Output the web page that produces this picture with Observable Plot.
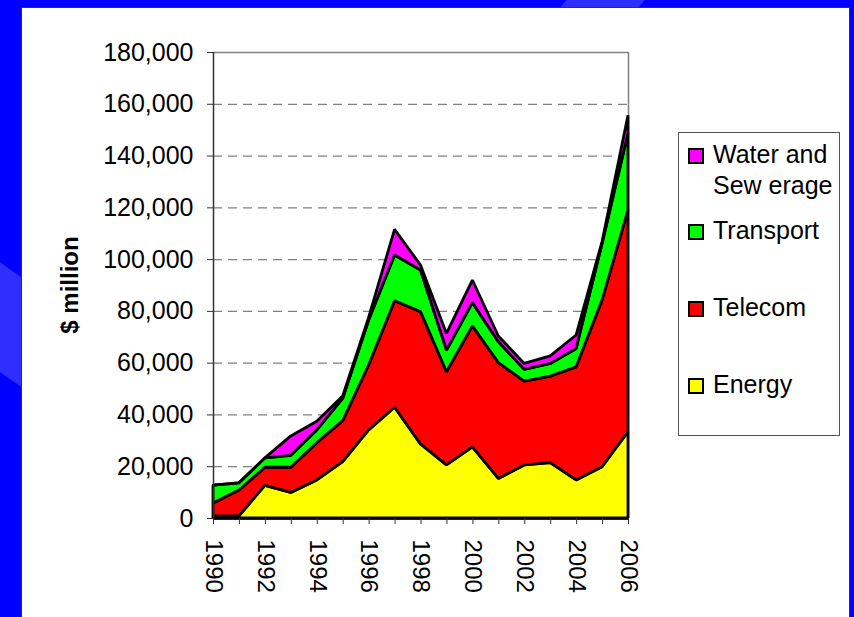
<!DOCTYPE html>
<html>
<head>
<meta charset="utf-8">
<script src="https://cdn.jsdelivr.net/npm/d3@7"></script>
<script src="https://cdn.jsdelivr.net/npm/@observablehq/plot@0.6"></script>
<style>
  html, body { margin: 0; padding: 0; }
  body { width: 854px; height: 617px; overflow: hidden; background: #0000ff; position: relative;
         font-family: "Liberation Sans", Arial, sans-serif; }
  .stripe { position: absolute; background: rgba(255,255,255,0.18); transform-origin: 0 0; }
  #panel { position: absolute; left: 21px; top: 7px; width: 827px; height: 620px; background: #fff;
           border: 1.5px solid #333; }
  #chart { position: absolute; left: 0; top: 0; }
  #ylabel { position: absolute; left: 70px; top: 285px; transform: translate(-50%, -50%) rotate(-90deg);
            font-weight: bold; font-size: 24px; white-space: nowrap; color: #000; }
  #legend { position: absolute; left: 678px; top: 132px; width: 162px; height: 304px; background: #fff;
            border: 1px solid #555; box-sizing: border-box; }
  .item { position: absolute; left: 9px; font-size: 25px; line-height: 31px; color: #000; }
  .sw { position: absolute; left: 0; width: 12px; height: 12px; border: 2px solid #000; }
  .lab { position: absolute; left: 25px; white-space: nowrap; }
</style>
</head>
<body>
<div class="stripe" style="left:600px; top:-40px; width:60px; height:120px; transform: rotate(40deg);"></div>
<div class="stripe" style="left:-60px; top:330px; width:90px; height:260px; transform: rotate(-55deg);"></div>
<div id="panel"></div>
<div id="chart"></div>
<div id="ylabel">$ million</div>
<div id="legend"></div>
<script>
// ---- data (US$ million) ----
const years = [1990,1991,1992,1993,1994,1995,1996,1997,1998,1999,2000,2001,2002,2003,2004,2005,2006];
const energy    = [800, 800, 12600, 9900, 14700, 21800, 34000, 42800, 28600, 20500, 27500, 15300, 20500, 21400, 14700, 19800, 33300];
const telecom   = [5000, 10000, 7000, 9700, 14400, 15800, 25100, 41100, 51100, 36000, 46700, 44700, 32400, 33400, 43700, 64400, 85700];
const transport = [6900, 2800, 3600, 4600, 4900, 8600, 17400, 17700, 16100, 8400, 9000, 8100, 4500, 4900, 7100, 21900, 29600];
const water     = [0, 0, 0, 7500, 3400, 900, 1000, 9900, 1900, 6400, 8700, 2200, 2300, 2900, 5200, 700, 7000];

const seriesNames = ["Energy", "Telecom", "Transport", "Water and Sewerage"];
const seriesColors = ["#ffff00", "#ff0000", "#00ff00", "#ff00ff"];
const legendLabels = ["Water and\nSew erage", "Transport", "Telecom", "Energy"];
const yTicks = [0, 20000, 40000, 60000, 80000, 100000, 120000, 140000, 160000, 180000];
const xTickLabels = [1990, 1992, 1994, 1996, 1998, 2000, 2002, 2004, 2006];

const seriesValues = [energy, telecom, transport, water];
const rows = [];
seriesNames.forEach((s, i) => years.forEach((y, j) => rows.push({year: y, series: s, value: seriesValues[i][j]})));

const chart = Plot.plot({
  width: 854,
  height: 617,
  marginLeft: 213,
  marginRight: 226,
  marginTop: 52,
  marginBottom: 99,
  style: {background: "transparent", fontFamily: "'Liberation Sans', Arial, sans-serif", fontSize: "24px", color: "#000"},
  x: {domain: [1990, 2006]},
  y: {domain: [0, 180000]},
  color: {domain: seriesNames, range: seriesColors},
  marks: [
    Plot.gridY(yTicks.filter(t => t > 0 && t < 180000), {stroke: "#808080", strokeOpacity: 1, strokeWidth: 1.2, strokeDasharray: "9,6"}),
    Plot.ruleX([2006], {y1: 0, y2: 180000, stroke: "#808080", strokeWidth: 1.5}),
    Plot.ruleY([180000], {stroke: "#808080", strokeWidth: 1.5}),
    Plot.areaY(rows, {x: "year", y: "value", fill: "series", z: "series", order: seriesNames,
      stroke: "#000", strokeWidth: 2.8, strokeLinejoin: "miter"}),
    Plot.ruleX([1990], {y1: 0, y2: 180000, stroke: "#333", strokeWidth: 1.5}),
    Plot.ruleY([0], {stroke: "#000", strokeWidth: 2.5}),
    Plot.axisY({ticks: yTicks, tickFormat: d3.format(","), tickSize: 6, tickPadding: 14, label: null, stroke: "#333", fontSize: 25}),
    Plot.axisX({ticks: years, tickFormat: d => xTickLabels.includes(d) ? String(d) : "", tickSize: 6, tickPadding: 15,
      tickRotate: 90, label: null, stroke: "#333"})
  ]
});
document.getElementById("chart").appendChild(chart);

// legend
const legend = document.getElementById("legend");
const legendColors = ["#ff00ff", "#00ff00", "#ff0000", "#ffff00"];
const legendTops = [6, 82, 159, 236];
legendLabels.forEach((lab, i) => {
  const it = document.createElement("div");
  it.className = "item";
  it.style.top = legendTops[i] + "px";
  const sw = document.createElement("div");
  sw.className = "sw";
  sw.style.background = legendColors[i];
  sw.style.top = "9px";
  const tx = document.createElement("div");
  tx.className = "lab";
  tx.innerHTML = lab.replace("\n", "<br>");
  it.appendChild(sw); it.appendChild(tx);
  legend.appendChild(it);
});
</script>
</body>
</html>
